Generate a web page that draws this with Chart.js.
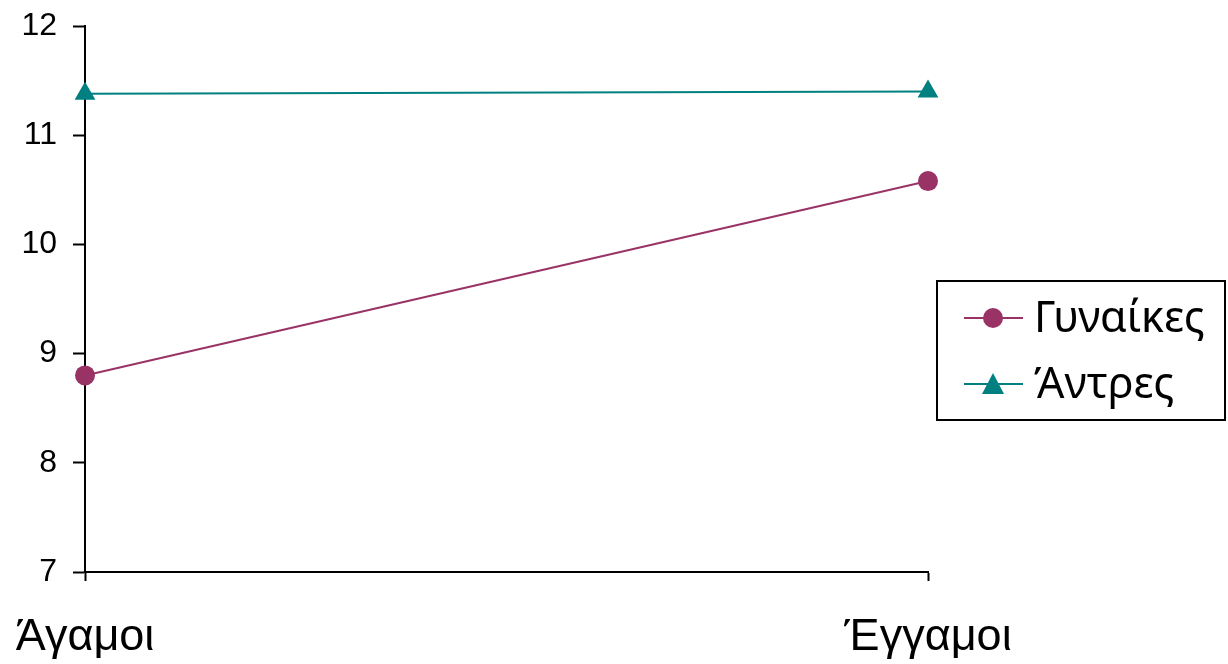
<!DOCTYPE html>
<html>
<head>
<meta charset="utf-8">
<script src="https://cdn.jsdelivr.net/npm/chart.js@4/dist/chart.umd.min.js"></script>
<style>
  html, body { margin: 0; padding: 0; background: #fff; }
  #wrap { position: relative; width: 1228px; height: 664px; }
</style>
</head>
<body>
<div id="wrap"><canvas id="chart"></canvas></div>
<script>
const categories = ["Άγαμοι", "Έγγαμοι"];
const seriesNames = ["Γυναίκες", "Άντρες"];
const women = [8.8, 10.58];
const men = [11.38, 11.4];
const yTicks = [7, 8, 9, 10, 11, 12];

const colors = ["#993366", "#008080"];

// legend with a frame, drawn on the canvas
const boxLegend = {
  id: "boxLegend",
  afterDraw(chart) {
    const ctx = chart.ctx;
    const x = 937, y = 281, w = 288, h = 139;
    ctx.save();
    ctx.strokeStyle = "#000";
    ctx.lineWidth = 2;
    ctx.strokeRect(x, y, w, h);
    ctx.font = "43px 'Noto Sans'";
    ctx.textBaseline = "middle";
    chart.data.datasets.forEach((ds, i) => {
      const cy = y + 37 + i * 66;
      ctx.strokeStyle = ds.borderColor;
      ctx.lineWidth = 2;
      ctx.beginPath();
      ctx.moveTo(964, cy);
      ctx.lineTo(1023, cy);
      ctx.stroke();
      ctx.fillStyle = ds.backgroundColor;
      ctx.beginPath();
      if (ds.pointStyle === "triangle") {
        ctx.moveTo(993, cy - 11);
        ctx.lineTo(1004, cy + 10);
        ctx.lineTo(982, cy + 10);
        ctx.closePath();
      } else {
        ctx.arc(993, cy, 10, 0, Math.PI * 2);
      }
      ctx.fill();
      ctx.fillStyle = "#000";
      ctx.fillText(ds.label, 1034, cy + 2);
    });
    ctx.restore();
  }
};

new Chart(document.getElementById("chart"), {
  type: "line",
  data: {
    labels: categories,
    datasets: [
      {
        label: seriesNames[0],
        data: women,
        borderColor: colors[0],
        backgroundColor: colors[0],
        borderWidth: 2,
        pointStyle: "circle",
        pointRadius: 10,
        pointBorderWidth: 0,
        pointHoverRadius: 10
      },
      {
        label: seriesNames[1],
        data: men,
        borderColor: colors[1],
        backgroundColor: colors[1],
        borderWidth: 2,
        pointStyle: "triangle",
        pointRadius: 12,
        pointBorderWidth: 0,
        pointHoverRadius: 12
      }
    ]
  },
  options: {
    responsive: true,
    maintainAspectRatio: false,
    animation: false,
    events: [],
    layout: { padding: { top: 26, right: 300, left: 0, bottom: 0 } },
    plugins: {
      legend: { display: false },
      tooltip: { enabled: false }
    },
    scales: {
      x: {
        offset: false,
        grid: {
          offset: false,
          drawOnChartArea: false,
          drawTicks: true,
          tickLength: 9,
          tickWidth: 2,
          tickColor: "#000"
        },
        border: { color: "#000", width: 2 },
        ticks: {
          color: "#000",
          font: { family: "'Liberation Sans', Arial", size: 45 },
          padding: 30,
          maxRotation: 0
        },
        afterFit(scale) {
          scale.height = 92;
          scale.paddingLeft = 0;
          scale.paddingRight = 0;
        }
      },
      y: {
        min: 7,
        max: 12,
        afterBuildTicks(scale) { scale.ticks = yTicks.map(v => ({ value: v })); },
        grid: {
          drawOnChartArea: false,
          drawTicks: true,
          tickLength: 12,
          tickWidth: 2,
          tickColor: "#000"
        },
        border: { color: "#000", width: 2 },
        ticks: {
          color: "#000",
          font: { family: "'Liberation Sans', Arial", size: 32 },
          padding: 16
        },
        afterFit(scale) {
          scale.width = 85;
          scale.paddingTop = 0;
          scale.paddingBottom = 0;
        }
      }
    }
  },
  plugins: [boxLegend]
});
</script>
</body>
</html>
